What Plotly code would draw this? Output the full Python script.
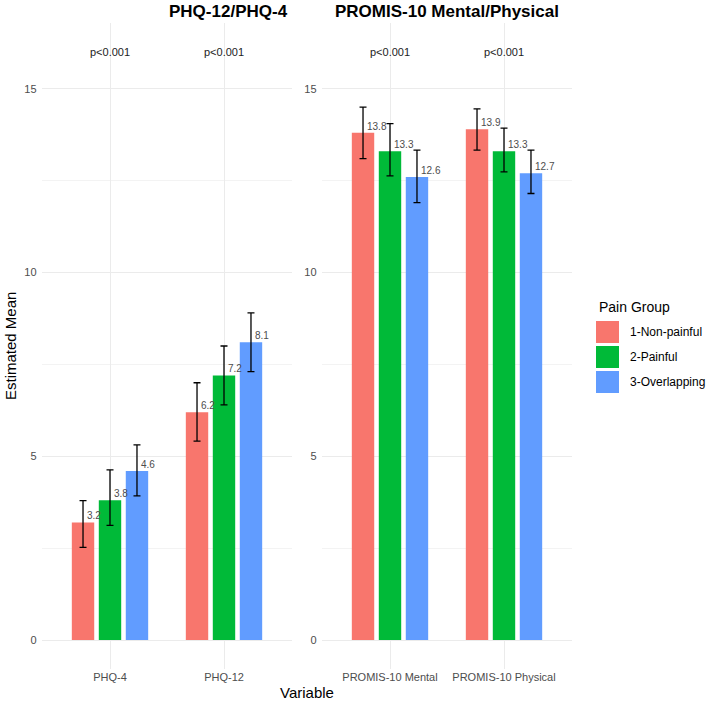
import plotly.graph_objects as go

# ---------------- data ----------------
left_vars = ["PHQ-4", "PHQ-12"]
right_vars = ["PROMIS-10 Mental", "PROMIS-10 Physical"]
groups = ["1-Non-painful", "2-Painful", "3-Overlapping"]
colors = ["#F8766D", "#00BA38", "#619CFF"]

# estimated means per group, order: PHQ-4, PHQ-12, PROMIS Mental, PROMIS Physical
mean_nonpainful = [3.2, 6.2, 13.8, 13.9]
mean_painful = [3.8, 7.2, 13.3, 13.3]
mean_overlapping = [4.6, 8.1, 12.6, 12.7]

lo_nonpainful = [2.52, 5.41, 13.10, 13.33]
hi_nonpainful = [3.79, 7.00, 14.50, 14.45]
lo_painful = [3.12, 6.40, 12.63, 12.74]
hi_painful = [4.63, 8.00, 14.05, 13.93]
lo_overlapping = [3.92, 7.30, 11.90, 12.15]
hi_overlapping = [5.31, 8.90, 13.33, 13.33]

pvalues = ["p<0.001", "p<0.001", "p<0.001", "p<0.001"]
panel_titles = ["PHQ-12/PHQ-4", "PROMIS-10 Mental/Physical"]
y_ticks = [0, 5, 10, 15]

means = [mean_nonpainful, mean_painful, mean_overlapping]
los = [lo_nonpainful, lo_painful, lo_overlapping]
his = [hi_nonpainful, hi_painful, hi_overlapping]

FONT = "Liberation Sans, Arial, sans-serif"
W, H = 709, 706

fig = go.Figure()

panels = [(left_vars, slice(0, 2), "x", "y"), (right_vars, slice(2, 4), "x2", "y2")]
for vars_, sl, xa, ya in panels:
    for g in range(3):
        m = means[g][sl]
        lo = los[g][sl]
        hi = his[g][sl]
        fig.add_trace(go.Bar(
            x=vars_, y=m, name=groups[g], marker_color=colors[g],
            marker_line_width=0, showlegend=False,
            xaxis=xa, yaxis=ya,
            error_y=dict(type="data", symmetric=False,
                         array=[h - v for h, v in zip(hi, m)],
                         arrayminus=[v - l for v, l in zip(m, lo)],
                         color="black", thickness=1.3, width=3.5),
        ))

slot_px = 27
annotations = []
# value labels
for vars_, sl, xa, ya in panels:
    for g in range(3):
        for cat, v in zip(vars_, means[g][sl]):
            annotations.append(dict(
                x=cat, y=v, xref=xa, yref=ya, text=f"{v:.1f}", showarrow=False,
                xanchor="left", yanchor="bottom", xshift=(g - 1) * slot_px + 2,
                yshift=-1, font=dict(family=FONT, size=10, color="#4D4D4D")))
# p-values
all_vars = left_vars + right_vars
for i, (cat, p) in enumerate(zip(all_vars, pvalues)):
    xa, ya = ("x", "y") if i < 2 else ("x2", "y2")
    annotations.append(dict(x=cat, y=16.0, xref=xa, yref=ya, text=p, showarrow=False,
                            font=dict(family=FONT, size=11, color="#222222")))

x1d = [41.6 / W, 292.4 / W]
x2d = [321.6 / W, 572.4 / W]
ydom = [1 - 669.4 / H, 1 - 22.6 / H]

# panel titles
for t, d in zip(panel_titles, [x1d, x2d]):
    annotations.append(dict(x=(d[0] + d[1]) / 2, y=1 - 12 / H, xref="paper", yref="paper",
                            text=f"<b>{t}</b>", showarrow=False, yanchor="middle",
                            font=dict(family=FONT, size=17, color="black")))
# axis titles
annotations.append(dict(x=(x1d[0] + x2d[1]) / 2, y=1 - 692 / H, xref="paper", yref="paper",
                        text="Variable", showarrow=False, yanchor="middle",
                        font=dict(family=FONT, size=15, color="black")))
annotations.append(dict(x=10 / W, y=(ydom[0] + ydom[1]) / 2, xref="paper", yref="paper",
                        text="Estimated Mean", showarrow=False, textangle=-90,
                        xanchor="center", yanchor="middle",
                        font=dict(family=FONT, size=15, color="black")))

# legend (manual)
shapes = []
annotations.append(dict(x=597 / W, y=1 - 307 / H, xref="paper", yref="paper",
                        text="Pain Group", showarrow=False, xanchor="left", yanchor="middle",
                        font=dict(family=FONT, size=14, color="black")))
for g in range(3):
    top = 321 + g * 25
    shapes.append(dict(type="rect", xref="paper", yref="paper",
                       x0=596 / W, x1=619 / W, y0=1 - (top + 22) / H, y1=1 - top / H,
                       fillcolor=colors[g], line_width=0))
    annotations.append(dict(x=628 / W, y=1 - (top + 11) / H, xref="paper", yref="paper",
                            text=groups[g], showarrow=False, xanchor="left", yanchor="middle",
                            font=dict(family=FONT, size=12, color="black")))

xcommon = dict(range=[-0.6, 1.6], showgrid=True, gridcolor="#EBEBEB", gridwidth=1,
               zeroline=False, showline=False, ticks="",
               tickfont=dict(family=FONT, size=11, color="#4D4D4D"), fixedrange=True)
ycommon = dict(range=[-0.8, 16.8], tickvals=y_ticks, showgrid=True, gridcolor="#EBEBEB",
               gridwidth=1, zeroline=False, showline=False, ticks="",
               tickfont=dict(family=FONT, size=11, color="#4D4D4D"),
               minor=dict(dtick=2.5, tick0=0, showgrid=True, gridcolor="#F3F3F3", gridwidth=1),
               ticklabelstandoff=4)

fig.update_layout(
    width=W, height=H, margin=dict(l=0, r=0, t=0, b=0),
    paper_bgcolor="white", plot_bgcolor="white",
    barmode="group", bargap=0.29, bargroupgap=0.17,
    showlegend=False,
    xaxis=dict(domain=x1d, anchor="y", **xcommon),
    xaxis2=dict(domain=x2d, anchor="y2", **xcommon),
    yaxis=dict(domain=ydom, anchor="x", **ycommon),
    yaxis2=dict(domain=ydom, anchor="x2", **ycommon),
    annotations=annotations, shapes=shapes,
    font=dict(family=FONT),
)

fig.write_html("out.html")
